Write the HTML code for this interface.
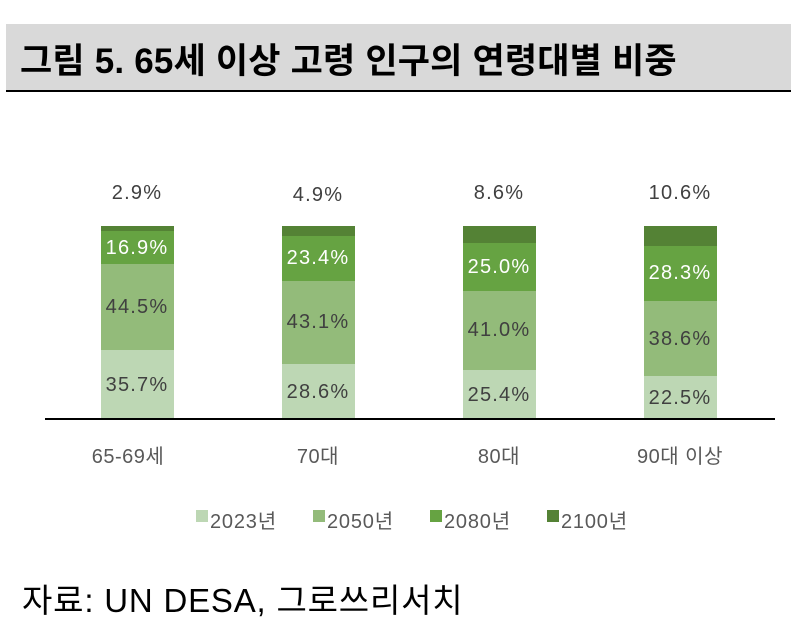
<!DOCTYPE html><html><head><meta charset="utf-8"><style>
body{margin:0;width:791px;height:623px;background:#fff;overflow:hidden;font-family:"Liberation Sans","Noto Sans CJK KR",sans-serif;position:relative}
.t{position:absolute;left:6px;top:24px;width:785px;height:66px;background:#d9d9d9;border-bottom:2px solid #000}
.t span{position:absolute;left:14px;top:9px;font-size:35px;font-weight:bold;color:#000;letter-spacing:0.2px}
.s{position:absolute;white-space:nowrap}
.l{position:absolute;font-size:20px;letter-spacing:1.2px;color:#404040;text-align:center;width:130px;transform:translateX(-50%)}
.w{color:#fff}
.cat{position:absolute;top:440px;font-size:20px;letter-spacing:0.5px;color:#595959;width:160px;text-align:center;transform:translateX(-50%)}
.lg{position:absolute;top:505px;font-size:20px;letter-spacing:0.8px;color:#595959;white-space:nowrap}
</style></head><body>
<div class="t"><span>그림 5. 65세 이상 고령 인구의 연령대별 비중</span></div>
<svg width="791" height="623" style="position:absolute;left:0;top:0">
<g>
<rect x="101" y="350" width="73" height="69" fill="#bdd7b4"/><rect x="101" y="264" width="73" height="86" fill="#93bb7a"/><rect x="101" y="231" width="73" height="33" fill="#66a342"/><rect x="101" y="226" width="73" height="5" fill="#548235"/>
<rect x="282" y="364" width="73" height="55" fill="#bdd7b4"/><rect x="282" y="281" width="73" height="83" fill="#93bb7a"/><rect x="282" y="236" width="73" height="45" fill="#66a342"/><rect x="282" y="226" width="73" height="10" fill="#548235"/>
<rect x="463" y="370" width="73" height="49" fill="#bdd7b4"/><rect x="463" y="291" width="73" height="79" fill="#93bb7a"/><rect x="463" y="243" width="73" height="48" fill="#66a342"/><rect x="463" y="226" width="73" height="17" fill="#548235"/>
<rect x="644" y="376" width="73" height="43" fill="#bdd7b4"/><rect x="644" y="301" width="73" height="75" fill="#93bb7a"/><rect x="644" y="246" width="73" height="55" fill="#66a342"/><rect x="644" y="226" width="73" height="20" fill="#548235"/>
</g>
<line x1="45" y1="419" x2="775" y2="419" stroke="#000" stroke-width="2"/>
<rect x="196" y="510" width="12" height="12" fill="#bdd7b4"/><rect x="313" y="510" width="12" height="12" fill="#93bb7a"/><rect x="430" y="510" width="12" height="12" fill="#66a342"/><rect x="547" y="510" width="12" height="12" fill="#548235"/>
</svg>
<div class="l" style="left:137px;top:182px">2.9%</div><div class="l" style="left:318px;top:184px">4.9%</div><div class="l" style="left:499px;top:182px">8.6%</div><div class="l" style="left:680px;top:182px">10.6%</div>
<div class="l w" style="left:137px;top:237px">16.9%</div><div class="l w" style="left:318px;top:247px">23.4%</div><div class="l w" style="left:499px;top:256px">25.0%</div><div class="l w" style="left:680px;top:262px">28.3%</div>
<div class="l" style="left:137px;top:296px">44.5%</div><div class="l" style="left:318px;top:311px">43.1%</div><div class="l" style="left:499px;top:319px">41.0%</div><div class="l" style="left:680px;top:328px">38.6%</div>
<div class="l" style="left:137px;top:374px">35.7%</div><div class="l" style="left:318px;top:381px">28.6%</div><div class="l" style="left:499px;top:384px">25.4%</div><div class="l" style="left:680px;top:387px">22.5%</div>
<div class="cat" style="left:128px">65-69세</div><div class="cat" style="left:318px">70대</div><div class="cat" style="left:499px">80대</div><div class="cat" style="left:680px">90대 이상</div>
<div class="lg" style="left:210px">2023년</div>
<div class="lg" style="left:327px">2050년</div>
<div class="lg" style="left:444px">2080년</div>
<div class="lg" style="left:561px">2100년</div>
<div class="s" style="left:22px;top:574px;font-size:33px;letter-spacing:0.8px;color:#000">자료: UN DESA, 그로쓰리서치</div>
</body></html>
